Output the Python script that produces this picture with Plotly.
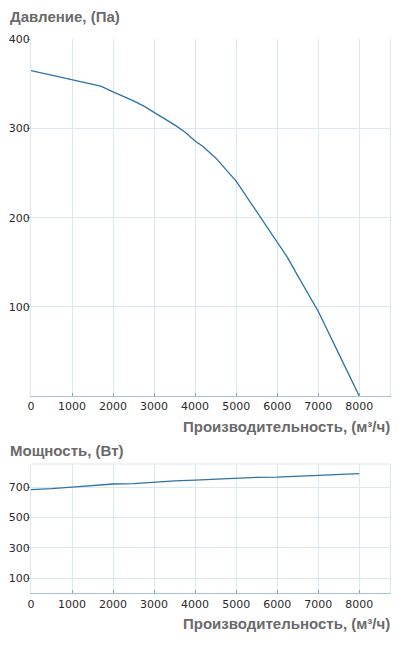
import plotly.graph_objects as go
from plotly.subplots import make_subplots

# pressure curve
flow_p = [0, 500, 1000, 1500, 1700, 2000, 2250, 2500, 2750, 3000, 3250, 3500,
          3750, 4000, 4200, 4400, 4500, 5000, 5500, 6000, 6250, 6500, 7000, 7500, 8000]
pressure = [365, 360, 355, 350, 347.5, 341, 336, 331, 325, 318, 311, 304,
            296, 286, 279.5, 271.5, 267, 241, 206.5, 173, 155.5, 135, 95, 47.5, 0]

# power curve
flow_w = [0, 500, 1000, 1500, 2000, 2500, 3000, 3500, 4000, 4500, 5000,
          5500, 6000, 6500, 7000, 7500, 8000]
power = [685, 691, 702, 711, 722, 724, 735, 742, 748, 755, 762,
         766, 768, 773, 779, 784, 790]

x_ticks = [0, 1000, 2000, 3000, 4000, 5000, 6000, 7000, 8000]
p_ticks = [100, 200, 300, 400]
w_ticks = [100, 300, 500, 700]

# page body has an 8px margin, so the figure is a bit smaller than the window
OFF = 8
W, H = 404 - OFF, 661 - OFF
L, R = 31 - OFF, 14
line_col = '#2f73a5'
grid_col = '#dbe8f0'
axis_col = '#a6c4d8'
title_col = '#6a6a6a'
tick_font = dict(family='DejaVu Sans', size=11, color='#2a2a2a')
title_font = dict(family='Liberation Sans, Arial', size=15, color=title_col)


def py(px):
    # pixel from top of window -> paper fraction (margins t=b=0)
    return 1 - (px - OFF) / H


fig = make_subplots(rows=2, cols=1)

fig.add_trace(go.Scatter(x=flow_p, y=pressure, mode='lines',
                         line=dict(color=line_col, width=1.3),
                         showlegend=False, hoverinfo='x+y'), row=1, col=1)
fig.add_trace(go.Scatter(x=flow_w, y=power, mode='lines',
                         line=dict(color=line_col, width=1.3),
                         showlegend=False, hoverinfo='x+y'), row=2, col=1)

xcommon = dict(range=[0, 8750], tickvals=x_ticks, showgrid=True, gridcolor=grid_col,
               zeroline=False, showline=True, linecolor=axis_col, linewidth=1,
               ticks='inside', ticklen=3, tickcolor='#7fa8c4', tickfont=tick_font,
               automargin=False, fixedrange=True)
ycommon = dict(showgrid=True, gridcolor=grid_col, zeroline=False, showline=True,
               linecolor=grid_col, mirror=True, ticks='outside', ticklen=3,
               tickcolor='#7fa8c4', tickfont=tick_font, ticklabelstandoff=-5,
               automargin=False, fixedrange=True)

fig.update_xaxes(**xcommon)
fig.update_yaxes(**ycommon)
fig.update_layout(
    xaxis=dict(domain=[0, 1], anchor='y'),
    xaxis2=dict(domain=[0, 1], anchor='y2'),
    yaxis=dict(domain=[py(396), py(39.3)], range=[0, 400], tickvals=p_ticks),
    yaxis2=dict(domain=[py(593.4), py(464)], range=[0, 854], tickvals=w_ticks),
)

# top border of the power panel
fig.add_shape(type='line', xref='x2 domain', yref='y2 domain', x0=0, x1=1, y0=1, y1=1,
              line=dict(color=grid_col, width=1))

left_x = (8 - 31) / (W - L - R)
annos = [
    dict(text='<b>Давление, (Па)</b>', x=left_x, y=py(17), xanchor='left'),
    dict(text='<b>Производительность, (м³/ч)</b>', x=1.005, y=py(426), xanchor='right'),
    dict(text='<b>Мощность, (Вт)</b>', x=left_x, y=py(450), xanchor='left'),
    dict(text='<b>Производительность, (м³/ч)</b>', x=1.005, y=py(623.5), xanchor='right'),
]
for a in annos:
    fig.add_annotation(xref='paper', yref='paper', yanchor='middle', showarrow=False,
                       font=title_font, **a)

fig.update_layout(
    template='none',
    width=W, height=H,
    margin=dict(l=L, r=R, t=0, b=0),
    paper_bgcolor='white', plot_bgcolor='white',
    showlegend=False,
)

fig.write_html("out.html", config={'displayModeBar': False})
